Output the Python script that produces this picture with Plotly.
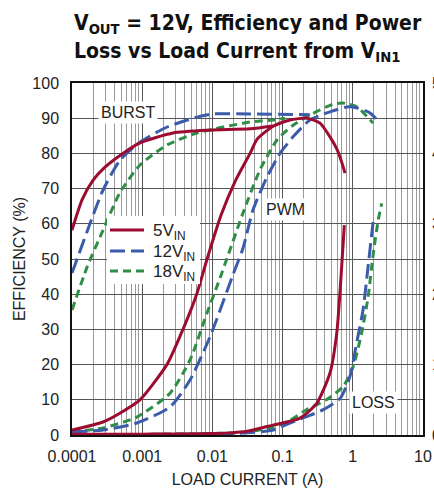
import math
import plotly.graph_objects as go

# ---------------- data ----------------
# 5V_IN
i5_burst = [1e-4, 1.39e-4, 2.0e-4, 2.95e-4, 5.3e-4, 9.3e-4, 2.75e-3, 9.2e-3, 0.0344, 0.073]
e5_burst = [58.2, 66.8, 72.4, 76.1, 80.0, 83.0, 85.8, 86.6, 87.0, 87.8]
i5_pwm = [1e-4, 2.77e-4, 4.8e-4, 9.3e-4, 2.25e-3, 3.45e-3, 6.04e-3, 8.4e-3, 0.0133, 0.021,
          0.0344, 0.0432, 0.073, 0.127, 0.223, 0.341, 0.473, 0.60, 0.70, 0.774]
e5_pwm = [1.4, 3.7, 6.2, 10.0, 20.0, 28.0, 40.3, 50.0, 62.5, 72.0,
          80.0, 84.0, 87.7, 89.5, 90.0, 88.6, 84.7, 81.0, 77.3, 74.4]
i5_loss = [1e-4, 1e-3, 0.01, 0.03, 0.06, 0.073, 0.177, 0.306, 0.473, 0.59, 0.67, 0.757]
w5_loss = [0.01, 0.012, 0.02, 0.05, 0.12, 0.14, 0.24, 0.45, 0.88, 1.44, 2.15, 2.98]

# 12V_IN
i12_burst = [1e-4, 1.8e-4, 2.77e-4, 4.8e-4, 9.3e-4, 2.26e-3, 6.0e-3, 0.0102, 0.0344, 0.245]
e12_burst = [46.0, 60.0, 69.6, 78.0, 83.2, 87.5, 90.3, 91.2, 91.2, 91.0]
i12_pwm = [1e-4, 2.77e-4, 8.4e-4, 2.5e-3, 4.8e-3, 9.2e-3, 0.0116, 0.0196, 0.0272, 0.0378,
           0.06, 0.0918, 0.141, 0.245, 0.473, 0.826, 1.15, 1.76, 2.44]
e12_pwm = [0.9, 1.4, 3.4, 8.0, 15.6, 27.8, 33.0, 45.5, 53.0, 63.9,
           73.3, 80.0, 84.7, 89.5, 91.8, 93.2, 92.9, 91.5, 88.6]
i12_loss = [1e-4, 1e-3, 0.01, 0.0247, 0.073, 0.127, 0.22, 0.38, 0.66, 0.91, 1.13, 1.4, 1.65, 1.96, 2.0]
w12_loss = [0.005, 0.008, 0.015, 0.024, 0.07, 0.17, 0.26, 0.36, 0.52, 0.83, 1.30, 1.78, 2.39, 3.05, 3.10]

# 18V_IN
i18_burst = [1e-4, 1.64e-4, 2.77e-4, 4.8e-4, 9.3e-4, 2.26e-3, 6.0e-3, 0.0344, 0.073, 0.108]
e18_burst = [35.5, 47.7, 58.2, 68.8, 76.7, 82.4, 85.8, 88.9, 89.5, 90.0]
i18_pwm = [1e-4, 2.77e-4, 8.4e-4, 2.5e-3, 4.8e-3, 8.4e-3, 0.0128, 0.0272, 0.0476, 0.0832,
           0.141, 0.245, 0.523, 0.724, 1.15, 1.94]
e18_pwm = [0.9, 2.0, 5.1, 11.9, 21.3, 34.7, 44.5, 63.0, 75.3, 83.8,
           88.0, 90.9, 94.0, 94.3, 93.2, 88.6]
i18_loss = [1e-4, 1e-3, 0.01, 0.03, 0.073, 0.127, 0.22, 0.42, 0.73, 1.01, 1.33, 1.65, 1.96, 2.3, 2.58]
w18_loss = [0.005, 0.008, 0.02, 0.04, 0.11, 0.21, 0.36, 0.50, 0.69, 0.97, 1.44, 1.96, 2.58, 3.05, 3.29]

x_tickvals = [1e-4, 1e-3, 1e-2, 1e-1, 1, 10]
x_ticktext = ["0.0001", "0.001", "0.01", "0.1", "1", "10"]
y_ticks = list(range(0, 101, 10))
y2_ticks = [0, 1, 2, 3, 4, 5]

RED = "#9C0B30"
BLUE = "#3B5BAB"
GREEN = "#2E8E47"
FONT = "Liberation Sans, Arial, sans-serif"
TITLE_FONT = "DejaVu Sans Condensed, sans-serif"

series = [
    ("18V<sub>IN</sub>", GREEN, "8px,5px", 3, (i18_burst, e18_burst), (i18_pwm, e18_pwm), (i18_loss, w18_loss)),
    ("12V<sub>IN</sub>", BLUE, "15px,6px", 2, (i12_burst, e12_burst), (i12_pwm, e12_pwm), (i12_loss, w12_loss)),
    ("5V<sub>IN</sub>", RED, "solid", 1, (i5_burst, e5_burst), (i5_pwm, e5_pwm), (i5_loss, w5_loss)),
]

fig = go.Figure()
for name, col, dash, rank, burst, pwm, loss in series:
    line = dict(color=col, width=3, dash=dash, shape="spline", smoothing=0.6)
    fig.add_trace(go.Scatter(x=burst[0], y=burst[1], mode="lines", line=line,
                             name=name, legendgroup=name, showlegend=False))
    fig.add_trace(go.Scatter(x=pwm[0], y=pwm[1], mode="lines", line=line,
                             name=name, legendgroup=name, showlegend=False))
    fig.add_trace(go.Scatter(x=loss[0], y=loss[1], mode="lines", line=line, yaxis="y2",
                             name=name, legendgroup=name, showlegend=False))

fig.update_layout(
    width=434, height=489,
    margin=dict(l=72, r=11, t=83, b=54, autoexpand=False),
    paper_bgcolor="white", plot_bgcolor="white",
    font=dict(family=FONT, size=16, color="#222"),
    xaxis=dict(
        type="log", range=[-4, 1], automargin=False,
        tickvals=x_tickvals, ticktext=x_ticktext,
        showgrid=True, gridcolor="#555", gridwidth=1,
        minor=dict(dtick="D1", showgrid=True, gridcolor="#9a9a9a", gridwidth=1, ticks=""),
        showline=True, linecolor="#111", linewidth=1.5, mirror=True,
        ticks="", ticklabelstandoff=6, zeroline=False,
        title=dict(text="LOAD CURRENT (A)", font=dict(size=16, color="#222"), standoff=10),
    ),
    yaxis=dict(
        range=[0, 100], tickvals=y_ticks, automargin=False,
        showgrid=True, gridcolor="#555", gridwidth=1,
        showline=True, linecolor="#111", linewidth=1.5, mirror=True,
        ticks="", ticklabelstandoff=8, zeroline=False,
        title=dict(text="EFFICIENCY (%)", font=dict(size=16, color="#222"), standoff=3),
    ),
    yaxis2=dict(
        range=[0, 5], tickvals=y2_ticks, overlaying="y", side="right",
        showgrid=False, zeroline=False, showline=False, ticks="",
        ticklabelstandoff=8, automargin=False,
    ),
    showlegend=False,
)

PL, PR, PT, PB = 72, 423, 83, 435


def px_x(px):
    return (px - PL) / (PR - PL)


def px_y(py):
    return (PB - py) / (PB - PT)


# title (two lines, left aligned)
fig.add_annotation(x=px_x(72), y=px_y(24.5), xref="paper", yref="paper",
                   text="<b>V<sub>OUT</sub> = 12V, Efficiency and Power</b>",
                   showarrow=False, xanchor="left", align="left", yanchor="middle",
                   font=dict(family=TITLE_FONT, size=21, color="#111"))
fig.add_annotation(x=px_x(72), y=px_y(52.5), xref="paper", yref="paper",
                   text="<b>Loss vs Load Current from V<sub>IN1</sub></b>",
                   showarrow=False, xanchor="left", align="left", yanchor="middle",
                   font=dict(family=TITLE_FONT, size=21, color="#111"))

# legend box drawn in paper space
fig.add_shape(type="rect", xref="paper", yref="paper",
              x0=px_x(107), x1=px_x(200), y0=px_y(284), y1=px_y(216),
              fillcolor="white", line=dict(width=0), layer="above")
legend_rows = [("5V<sub>IN</sub>", RED, "solid", 230),
               ("12V<sub>IN</sub>", BLUE, "15px,6px", 251),
               ("18V<sub>IN</sub>", GREEN, "8px,5px", 271)]
for txt, col, dash, row in legend_rows:
    fig.add_shape(type="line", xref="paper", yref="paper",
                  x0=px_x(110), x1=px_x(144), y0=px_y(row), y1=px_y(row),
                  line=dict(color=col, width=3, dash=dash), layer="above")
    fig.add_annotation(x=px_x(151), y=px_y(row + 2), xref="paper", yref="paper",
                       text=txt, showarrow=False, xanchor="left", yanchor="middle",
                       font=dict(size=17, color="#222"))

ann_font = dict(size=16, color="#222")
for txt, xv, yv in [("BURST", 6.2e-4, 91.5), ("PWM", 0.11, 64)]:
    fig.add_annotation(x=math.log10(xv), y=yv, xref="x", yref="y", text=txt, showarrow=False,
                       font=ann_font, bgcolor="white", borderpad=2)
fig.add_annotation(x=math.log10(1.94), y=0.46, xref="x", yref="y2", text="LOSS", showarrow=False,
                   font=ann_font, bgcolor="white", borderpad=2)

fig.write_html("out.html")
